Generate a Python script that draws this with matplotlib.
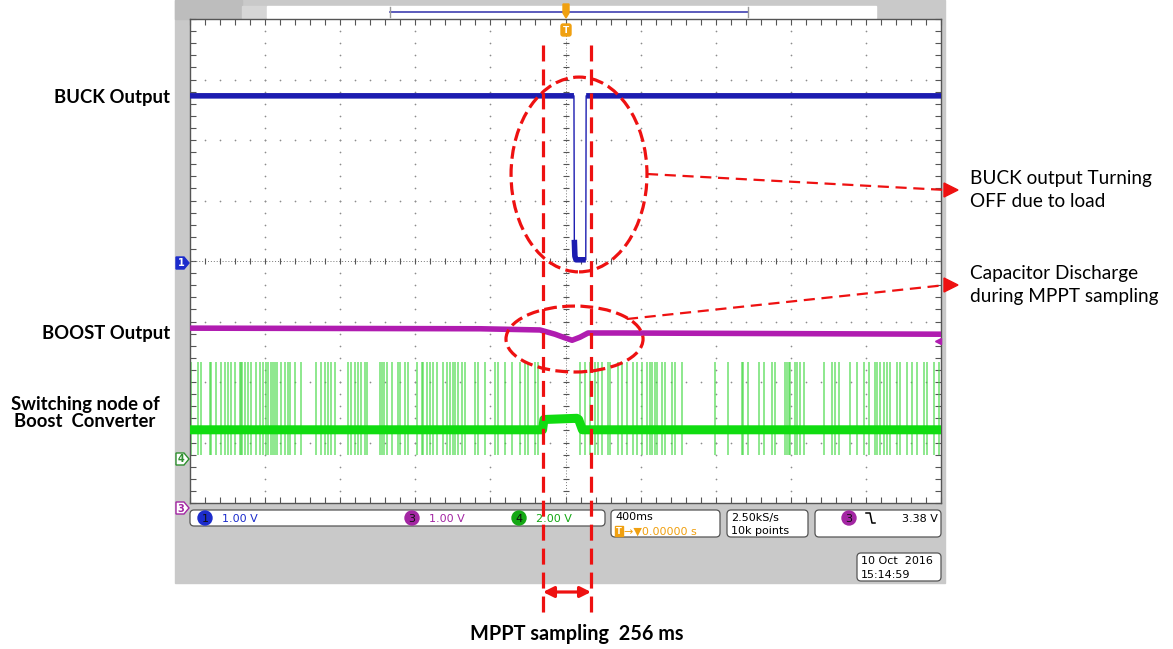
import numpy as np
import matplotlib.pyplot as plt
import matplotlib.transforms as mtransforms
from matplotlib.patches import Ellipse, Rectangle, FancyBboxPatch, Circle, Polygon

# ---- scope settings ----
T_DIV = 400          # ms / div
N_XDIV, N_YDIV = 10, 8
MPPT_START = -120    # ms
MPPT_LEN = 256       # ms

# ---- traces (time in ms, level in screen divisions) ----
buck_t = [-2000, 45, 47, 50, 56, 108, 110, 2000]
buck_v = [2.73, 2.73, 0.35, 0.08, 0.02, 0.02, 2.73, 2.73]

boost_t = [-2000, -455, -136, -56, -3, 35, 77, 120, 290, 2000]
boost_v = [-1.11, -1.12, -1.14, -1.21, -1.27, -1.31, -1.26, -1.19, -1.19, -1.21]

sw_t = [-2000, -122, -115, 60, 70, 90, 2000]
sw_v = [-2.79, -2.79, -2.62, -2.60, -2.62, -2.79, -2.79]
sw_top, sw_bot = -1.67, -3.21
sw_spikes = [-1995, -1957, -1941, -1893, -1888, -1861, -1835, -1813, -1797, -1781,
             -1760, -1734, -1728, -1723, -1707, -1691, -1675, -1648, -1627, -1611,
             -1595, -1584, -1568, -1558, -1547, -1536, -1515, -1494, -1478, -1467,
             -1441, -1409, -1329, -1302, -1281, -1265, -1249, -1228, -1158, -1142,
             -1121, -1105, -1089, -1068, -1057, -988, -977, -967, -951, -924,
             -892, -881, -855, -839, -791, -764, -759, -738, -722, -706,
             -685, -653, -632, -615, -599, -589, -573, -551, -535, -482,
             -466, -429, -375, -359, -322, -285, -242, -216, -200, -162, -146,
             77, 104, 130, 157, 173, 194, 226, 237, 280, 301, 328, 360, 381, 407,
             434, 450, 461, 477, 487, 514, 530, 567, 583, 620, 796, 865, 940, 945,
             972, 1030, 1057, 1100, 1116, 1169, 1180, 1190, 1196, 1222, 1233, 1249,
             1270, 1377, 1419, 1435, 1457, 1515, 1553, 1590, 1617, 1649, 1660, 1675,
             1697, 1713, 1729, 1766, 1782, 1819, 1846, 1873, 1910, 1926, 1963, 1990]

# ---- readouts ----
ch_labels = ['1', '3', '4']
ch_scales = ['1.00 V', '1.00 V', '2.00 V']
ch_colors = ['#1c2ccc', '#a326a3', '#14a814']
trace_colors = {'1': '#1c1cb0', '3': '#b01cb0', '4': '#10dc10'}
timebase = '400ms'
trig_pos = '0.00000 s'
sample_rate = '2.50kS/s'
record_len = '10k points'
trig_level = '3.38 V'
date_str = '10 Oct  2016'
time_str = '15:14:59'

RED = '#ee1111'
GRAY = '#c9c9c9'
ORANGE = '#f0a010'

W, H = 1173, 649
fig = plt.figure(figsize=(W / 100, H / 100), dpi=100)

bg = fig.add_axes([0, 0, 1, 1], zorder=0)
bg.set_xlim(0, W); bg.set_ylim(H, 0); bg.axis('off')

ax = fig.add_axes([190 / W, 1 - 503 / H, 751 / W, 484 / H], zorder=1)
xmax = T_DIV * N_XDIV / 2
ax.set_xlim(-xmax, xmax)
ax.set_ylim(-N_YDIV / 2, N_YDIV / 2)

fg = fig.add_axes([0, 0, 1, 1], zorder=2)
fg.set_xlim(0, W); fg.set_ylim(H, 0); fg.axis('off')

# ---- instrument background ----
bg.add_patch(Rectangle((175, 0), 770, 583, color=GRAY))
bg.add_patch(Rectangle((175, 0), 67, 19, color='#bdbdbd'))
bg.add_patch(Rectangle((242, 6), 25, 12, color='#d6d6d6'))
bg.add_patch(Rectangle((267, 6), 609, 12, color='white'))
bg.plot([390, 748], [12, 12], color='#4040b0', lw=1.2)
bg.plot([390, 390], [7, 17], color='#999999', lw=1)
bg.plot([748, 748], [7, 17], color='#999999', lw=1)

# ---- graticule ----
for s in ax.spines.values():
    s.set_color('#555555'); s.set_linewidth(1)
ax.set_xticks([]); ax.set_yticks([])
minor_x = np.arange(-xmax, xmax + 1, T_DIV / 5)
minor_y = np.arange(-N_YDIV / 2, N_YDIV / 2 + 0.01, 0.2)
ax.set_xticks(minor_x, minor=True)
ax.set_yticks(minor_y, minor=True)
ax.tick_params(which='minor', direction='in', length=4, width=0.8, color='#555555',
               top=True, right=True, labelbottom=False, labelleft=False)

div_x = np.arange(-xmax + T_DIV, xmax, T_DIV)
div_y = np.arange(-N_YDIV / 2 + 1, N_YDIV / 2)
gx, gy = np.meshgrid(div_x[div_x != 0], minor_y)
ax.scatter(gx.ravel(), gy.ravel(), s=1.5, color='#8c8c8c', lw=0)
gx, gy = np.meshgrid(minor_x, div_y[div_y != 0])
ax.scatter(gx.ravel(), gy.ravel(), s=1.5, color='#8c8c8c', lw=0)
ax.axvline(0, color='#777777', lw=0.7, ls=(0, (1, 2)))
ax.axhline(0, color='#777777', lw=0.7, ls=(0, (1, 2)))
ax.plot(np.zeros_like(minor_y), minor_y, ls='none', marker='_', ms=5, mew=0.8, color='#555555')
ax.plot(minor_x, np.zeros_like(minor_x), ls='none', marker='|', ms=5, mew=0.8, color='#555555')


def trace(t, v, color, lw, jump=0.3):
    t = np.asarray(t, float); v = np.asarray(v, float)
    ax.plot(t, v, color=color, lw=1, zorder=3)
    tt, vv = [t[0]], [v[0]]
    for i in range(1, len(t)):
        if abs(v[i] - v[i - 1]) > jump:  # keep fast edges thin
            tt.append(np.nan); vv.append(np.nan)
        tt.append(t[i]); vv.append(v[i])
    ax.plot(tt, vv, color=color, lw=lw, solid_capstyle='butt', zorder=3)


ax.vlines(sw_spikes, sw_bot, sw_top, color='#3fd83f', lw=1.1, alpha=0.75, zorder=2)
trace(sw_t, sw_v, trace_colors['4'], 6.5)
trace(boost_t, boost_v, trace_colors['3'], 4)
trace(buck_t, buck_v, trace_colors['1'], 4)

# ---- trigger markers ----
fg.add_patch(Polygon([(563, 4), (569, 4), (569, 13), (566, 18), (563, 13)], color=ORANGE))
fg.add_patch(FancyBboxPatch((561, 24), 10, 12, boxstyle='round,pad=0,rounding_size=2', color=ORANGE))
fg.text(566, 30.5, 'T', color='white', fontsize=6.5, fontweight='bold', ha='center', va='center')
fg.plot([938], [341], marker='<', ms=4, color=trace_colors['3'])


def tag(y, num, color, filled):
    fc = color if filled else 'white'
    fg.add_patch(Polygon([(176, y - 6), (184, y - 6), (189, y), (184, y + 6), (176, y + 6)],
                         fc=fc, ec=color, lw=1))
    fg.text(181, y + 0.5, num, color='white' if filled else color, fontsize=7,
            fontweight='bold', ha='center', va='center')


tag(263, '1', ch_colors[0], True)
tag(459, '4', '#2f8f2f', False)
tag(508, '3', ch_colors[1], False)

# ---- status bar ----
def box(x, y, w, h):
    fg.add_patch(FancyBboxPatch((x, y), w, h, boxstyle='round,pad=0,rounding_size=4',
                                fc='white', ec='#555555', lw=0.9))


mono = dict(family='DejaVu Sans', fontsize=8)
box(190, 510, 415, 16)
for cx, lab, sc, col in zip([205, 412, 519], ch_labels, ch_scales, ch_colors):
    fg.add_patch(Circle((cx, 518), 7, color=col))
    fg.text(cx, 518.5, lab, color='#101010', ha='center', va='center', **mono)
    fg.text(cx + 17, 518.5, sc, color=col, ha='left', va='center', **mono)

box(611, 510, 109, 27)
fg.text(615, 517.5, timebase, color='black', va='center', **mono)
fg.add_patch(Rectangle((615, 526), 8, 10, color=ORANGE))
fg.text(619, 531.5, 'T', color='white', fontsize=6, fontweight='bold', ha='center', va='center')
fg.text(624, 531.5, '\u2192\u25bc' + trig_pos, color=ORANGE, va='center', **mono)

box(727, 510, 81, 27)
fg.text(731, 517.5, sample_rate, color='black', va='center', **mono)
fg.text(731, 531.5, record_len, color='black', va='center', **mono)

box(815, 510, 126, 27)
fg.add_patch(Circle((849, 518), 7, color=ch_colors[1]))
fg.text(849, 518.5, '3', color='#101010', ha='center', va='center', **mono)
fg.plot([866, 870, 872, 875], [513, 513, 523, 523], color='black', lw=1.1)
fg.text(938, 518.5, trig_level, color='black', ha='right', va='center', **mono)

box(857, 553, 84, 28)
fg.text(861, 560.5, date_str, color='black', va='center', **mono)
fg.text(861, 574.5, time_str, color='black', va='center', **mono)

# ---- annotations ----
lab = dict(family='Lato', fontsize=13.3, fontweight='bold', color='black')
fg.text(170, 97, 'BUCK Output', ha='right', va='center', **lab)
fg.text(170, 333, 'BOOST Output', ha='right', va='center', **lab)
fg.text(85, 413, 'Switching node of\nBoost  Converter', ha='center', va='center',
        multialignment='center', linespacing=1.05, **lab)

note = dict(family='Lato', fontsize=13.7, color='black', linespacing=1.45)
fg.text(970, 190, 'BUCK output Turning\nOFF due to load', ha='left', va='center', **note)
fg.text(970, 285, 'Capacitor Discharge\nduring MPPT sampling', ha='left', va='center', **note)

dash = (0, (4, 1.7))
ax.add_patch(Ellipse((72, 1.43), 724, 3.22, fill=False, ec=RED, lw=2.3, ls=dash, zorder=5))
ax.add_patch(Ellipse((48, -1.29), 730, 1.09, fill=False, ec=RED, lw=2.3, ls=dash, zorder=5))

for xy_a, y_b in [((647, 174), 190), ((627, 319), 285)]:
    fg.plot([xy_a[0], 946], [xy_a[1], y_b], color=RED, lw=1.6, ls=(0, (5, 3)))
    fg.add_patch(Polygon([(944, y_b - 7), (958, y_b), (944, y_b + 7)], color=RED))

mixed = mtransforms.blended_transform_factory(ax.transData, fg.transData)
mppt_end = MPPT_START + MPPT_LEN
for x in (MPPT_START, mppt_end):
    fg.plot([x, x], [45, 620], transform=mixed, color=RED, lw=2.3, ls=(0, (5, 2.5)),
            clip_on=False, zorder=6)
fg.annotate('', xy=(MPPT_START, 592), xytext=(mppt_end, 592), xycoords=mixed, textcoords=mixed,
            arrowprops=dict(arrowstyle='<|-|>', color=RED, lw=2.3, mutation_scale=16,
                            shrinkA=0, shrinkB=0))
fg.text(577, 634, f'MPPT sampling  {MPPT_LEN} ms', ha='center', va='center',
        **dict(lab, fontsize=14.3))

fig.savefig('out.png', dpi=100)
